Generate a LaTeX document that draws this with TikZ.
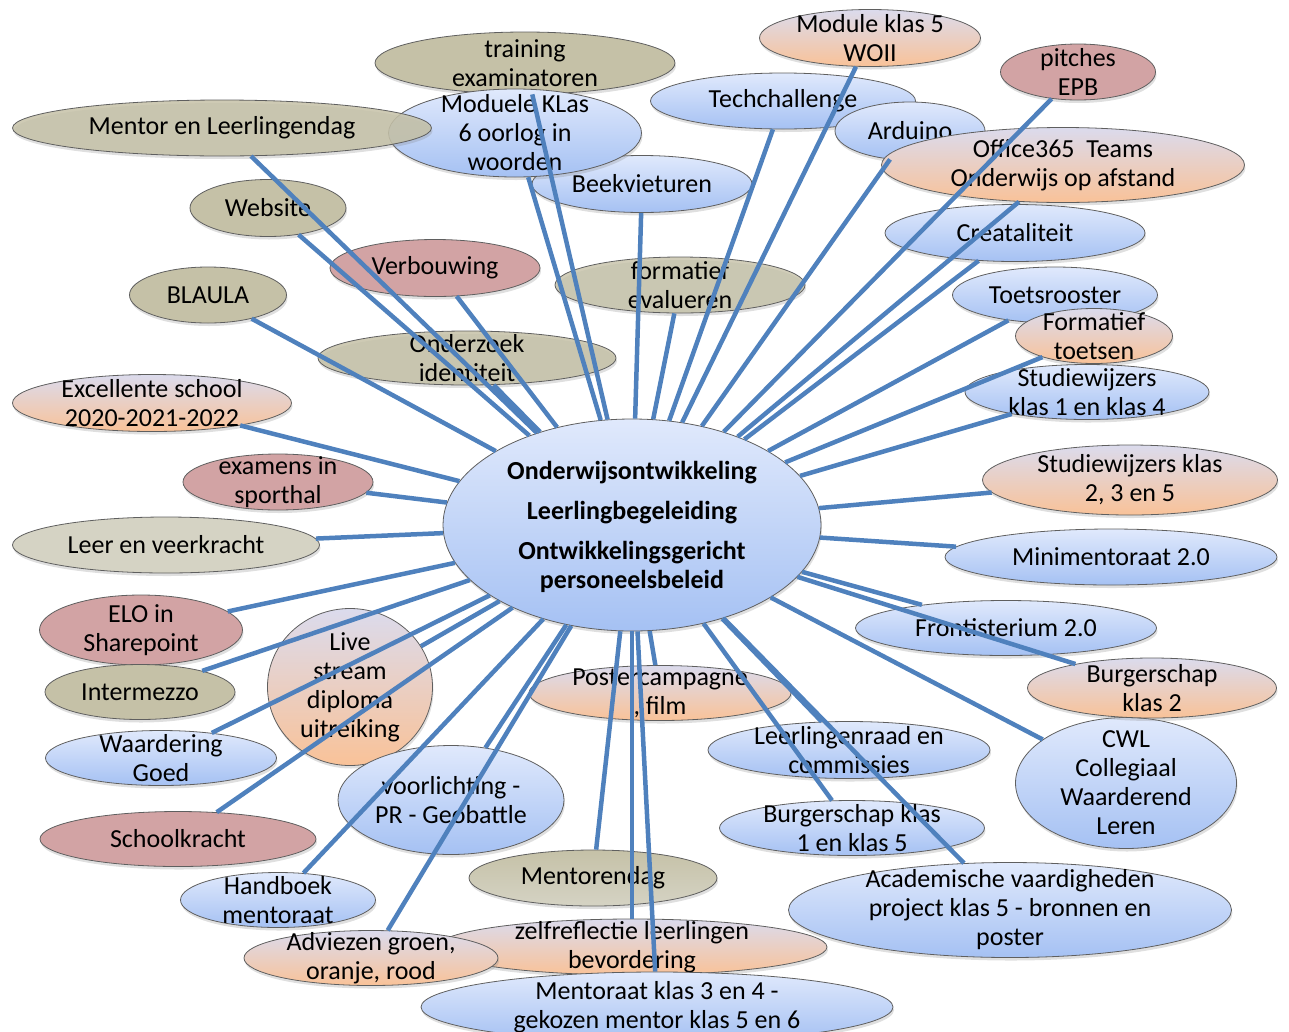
\documentclass[tikz,border=0pt]{standalone}
\usepackage{fontspec}
\setmainfont{Carlito}
\usepackage{tikz}
\usetikzlibrary{shapes.geometric}
\usetikzlibrary{shadows}
\definecolor{lijn}{RGB}{79,129,189}
\definecolor{blauwtop}{RGB}{224,233,252}
\definecolor{blauwbot}{RGB}{165,193,243}
\definecolor{olijf}{RGB}{197,193,167}
\definecolor{olijflicht}{RGB}{213,211,196}
\definecolor{roze}{RGB}{210,163,164}
\definecolor{oranjetop}{RGB}{219,219,237}
\definecolor{oranjebot}{RGB}{249,194,152}
\definecolor{rand}{RGB}{95,95,95}
\tikzset{
  bol/.style={ellipse, draw=rand, line width=0.8pt, inner sep=0pt,
    drop shadow={shadow xshift=1pt, shadow yshift=-3pt, opacity=0.25}},
  blauw/.style={bol, top color=blauwtop, bottom color=blauwbot},
  olijfb/.style={bol, fill=olijf},
  rood/.style={bol, fill=roze},
  oranje/.style={bol, top color=oranjetop, bottom color=oranjebot},
  verbinding/.style={lijn, line width=4.5pt},
  every label/.append style={align=center, inner sep=0pt}
}

\begin{document}
\begin{tikzpicture}[x=1pt, y=-1pt, font=\fontsize{26}{29}\selectfont]
\useasboundingbox (0,0) rectangle (1289,1031);
\node[olijfb, minimum width=300pt, minimum height=62pt, label={center:training\\examinatoren}] (training) at (525,63) {};
\node[blauw, minimum width=220pt, minimum height=57pt, label={center:Beekvieturen}] (beek) at (642,184) {};
\node[blauw, minimum width=253pt, minimum height=88pt, label={center:Moduele KLas\\6 oorlog in\\woorden}] (moduele) at (515,133) {};
\node[olijfb, fill opacity=0.85, minimum width=419pt, minimum height=56pt, label={center:Mentor en Leerlingendag}] (mentor) at (222,128) {};
\node[oranje, minimum width=221pt, minimum height=57pt, label={center:Module klas 5\\WOII}] (module5) at (870,38) {};
\node[blauw, minimum width=265pt, minimum height=56pt, label={center:Techchallenge}] (tech) at (783,101) {};
\node[blauw, minimum width=150pt, minimum height=58pt, label={center:Arduino}] (arduino) at (910,131) {};
\node[oranje, minimum width=363pt, minimum height=75pt, label={center:Office365\ \ Teams\\Onderwijs op afstand}] (office) at (1063,165) {};
\node[rood, minimum width=155pt, minimum height=56pt, label={center:pitches\\EPB}] (pitches) at (1078,72) {};
\node[blauw, minimum width=260pt, minimum height=57pt, label={center:Creataliteit}] (creat) at (1015,233) {};
\node[olijfb, minimum width=156pt, minimum height=57pt, label={center:Website}] (website) at (268,208) {};
\node[rood, minimum width=210pt, minimum height=57pt, label={center:Verbouwing}] (verbouwing) at (435,268) {};
\node[olijfb, fill opacity=0.8, minimum width=250pt, minimum height=56pt, label={center:formatief\\evalueren}] (formatief) at (680,285) {};
\node[olijfb, minimum width=157pt, minimum height=56pt, label={center:BLAULA}] (blaula) at (208,295) {};
\node[blauw, minimum width=205pt, minimum height=56pt, label={center:Toetsrooster}] (toets) at (1055,295) {};
\node[oranje, minimum width=157pt, minimum height=55pt, label={center:Formatief\\toetsen}] (ftoets) at (1094,336) {};
\node[blauw, minimum width=244pt, minimum height=55pt, label={center:Studiewijzers\\klas 1 en klas 4}] (studie14) at (1087,392) {};
\node[olijfb, fill opacity=0.85, minimum width=298pt, minimum height=54pt, label={center:Onderzoek\\identiteit}] (onderzoek) at (467,358) {};
\node[oranje, minimum width=279pt, minimum height=57pt, label={center:Excellente school\\2020-2021-2022}] (excellent) at (152,403) {};
\node[rood, minimum width=190pt, minimum height=56pt, label={center:examens in\\sporthal}] (examens) at (278,482) {};
\node[oranje, minimum width=295pt, minimum height=70pt, label={center:Studiewijzers klas\\2, 3 en 5}] (studie235) at (1130,480) {};
\node[bol, fill=olijflicht, minimum width=307pt, minimum height=56pt, label={center:Leer en veerkracht}] (leer) at (166,545) {};
\node[blauw, minimum width=332pt, minimum height=56pt, label={center:Minimentoraat 2.0}] (mini) at (1111,557) {};
\node[rood, minimum width=203pt, minimum height=70pt, label={center:ELO in\\Sharepoint}] (elo) at (141,630) {};
\node[oranje, minimum width=165pt, minimum height=157pt, label={center:Live\\stream\\diploma\\uitreiking}] (live) at (350,687) {};
\node[blauw, minimum width=301pt, minimum height=55pt, label={center:Frontisterium 2.0}] (front) at (1006,628) {};
\node[olijfb, minimum width=190pt, minimum height=55pt, label={center:Intermezzo}] (intermezzo) at (140,692) {};
\node[oranje, minimum width=262pt, minimum height=55pt, label={center:Postercampagne\\, film}] (poster) at (660,693) {};
\node[blauw, minimum width=221pt, minimum height=131pt, label={center:CWL\\Collegiaal\\Waarderend\\Leren}] (cwl) at (1126,783) {};
\node[oranje, minimum width=249pt, minimum height=60pt, label={center:Burgerschap\\klas 2}] (burg2) at (1152,688) {};
\node[blauw, minimum width=231pt, minimum height=55pt, label={center:Waardering\\Goed}] (waardering) at (161,758) {};
\node[blauw, minimum width=282pt, minimum height=57pt, label={center:Leerlingenraad en\\commissies}] (raad) at (849,750) {};
\node[blauw, minimum width=226pt, minimum height=109pt, label={center:voorlichting -\\PR - Geobattle}] (voorl) at (451,800) {};
\node[blauw, minimum width=265pt, minimum height=55pt, label={center:Burgerschap klas\\1 en klas 5}] (burg15) at (852,828) {};
\node[rood, minimum width=276pt, minimum height=55pt, label={center:Schoolkracht}] (school) at (178,839) {};
\node[blauw, minimum width=443pt, minimum height=95pt, label={center:Academische vaardigheden\\project klas 5 - bronnen en\\poster}] (acad) at (1010,910) {};
\node[bol, top color=olijf, bottom color=olijflicht, minimum width=248pt, minimum height=56pt, label={center:Mentorendag}] (mentorendag) at (593,878) {};
\node[blauw, minimum width=195pt, minimum height=55pt, label={center:Handboek\\mentoraat}] (handboek) at (278,900) {};
\node[oranje, minimum width=390pt, minimum height=56pt, label={center:zelfreflectie leerlingen\\bevordering}] (zelf) at (632,947) {};
\node[oranje, minimum width=254pt, minimum height=55pt, label={center:Adviezen groen,\\oranje, rood}] (advies) at (371,958) {};
\node[blauw, minimum width=472pt, minimum height=70pt, label={center:Mentoraat klas 3 en 4 -\\gekozen mentor klas 5 en 6}] (mentoraat) at (657,1007) {};
\node[blauw, minimum width=378pt, minimum height=212pt, label={[yshift=-2pt]center:\bfseries Onderwijsontwikkeling\\[11pt]\bfseries Leerlingbegeleiding\\[11pt]\bfseries Ontwikkelingsgericht\\\bfseries personeelsbeleid}] (hub) at (632,525) {};
\foreach \n in {training,beek,moduele,mentor,module5,tech,arduino,office,pitches,creat,website,verbouwing,formatief,blaula,toets,ftoets,studie14,onderzoek,excellent,examens,studie235,leer,mini,elo,live,front,intermezzo,poster,cwl,burg2,waardering,raad,voorl,burg15,school,acad,mentorendag,handboek,zelf,advies,mentoraat}
  \draw[verbinding] (hub) -- (\n);
\end{tikzpicture}
\end{document}
